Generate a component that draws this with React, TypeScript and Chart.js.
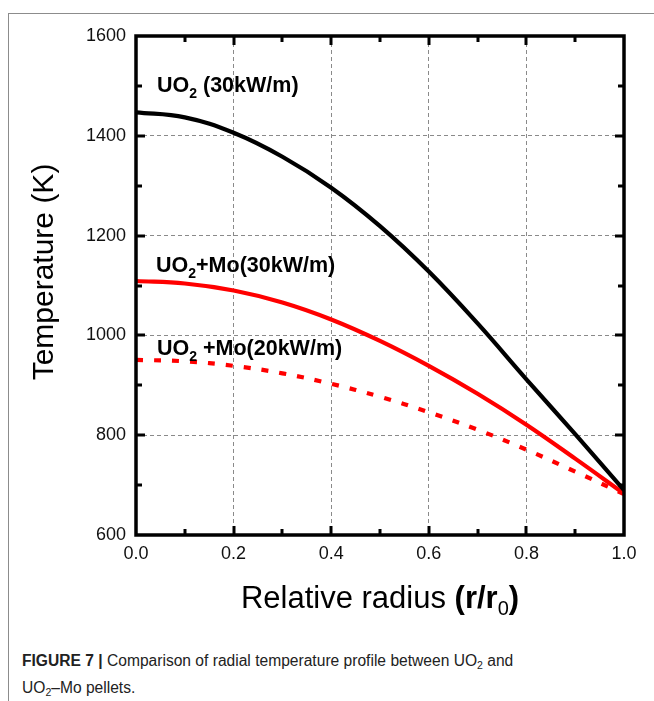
import React, { useEffect, useRef } from "react";
import { Chart, registerables } from "chart.js";

Chart.register(...registerables);

const radius = [0, 0.1, 0.2, 0.3, 0.4, 0.5, 0.6, 0.7, 0.8, 0.9, 1.0];
const uo2_30 = [1447, 1437, 1406, 1358, 1296, 1219, 1128, 1024, 912, 802, 690];
const uo2Mo_30 = [1109, 1104, 1090, 1066, 1032, 989, 939, 883, 821, 753, 683];
const uo2Mo_20 = [951, 948, 939, 924, 903, 877, 846, 811, 771, 727, 682];

const xTicks = [0, 0.2, 0.4, 0.6, 0.8, 1.0];
const yTicks = [600, 800, 1000, 1200, 1400, 1600];
const xMinorTicks = [0.1, 0.2, 0.3, 0.4, 0.5, 0.6, 0.7, 0.8, 0.9];
const yMinorTicks = [700, 800, 900, 1000, 1100, 1200, 1300, 1400, 1500];

type Seg = { t: string; bold?: boolean; sub?: boolean };
const annotations: { x: number; y: number; segs: Seg[] }[] = [
  { x: 0.043, y: 1488, segs: [{ t: "UO", bold: true }, { t: "2", bold: true, sub: true }, { t: " (30kW/m)", bold: true }] },
  { x: 0.041, y: 1128, segs: [{ t: "UO", bold: true }, { t: "2", bold: true, sub: true }, { t: "+Mo(30kW/m)", bold: true }] },
  { x: 0.043, y: 961, segs: [{ t: "UO", bold: true }, { t: "2", bold: true, sub: true }, { t: " +Mo(20kW/m)", bold: true }] },
];

const FONT = '"Liberation Sans", Arial, sans-serif';

function drawSegs(ctx: CanvasRenderingContext2D, segs: Seg[], x: number, y: number, size: number, subSize: number, subDy: number, align: "left" | "center") {
  const fontOf = (s: Seg) => `${s.bold ? "bold " : ""}${s.sub ? subSize : size}px ${FONT}`;
  let total = 0;
  for (const s of segs) {
    ctx.font = fontOf(s);
    total += ctx.measureText(s.t).width;
  }
  let cx = align === "center" ? x - total / 2 : x;
  ctx.textAlign = "left";
  ctx.textBaseline = "alphabetic";
  for (const s of segs) {
    ctx.font = fontOf(s);
    ctx.fillText(s.t, cx, s.sub ? y + subDy : y);
    cx += ctx.measureText(s.t).width;
  }
}

const near = (a: number, b: number) => Math.abs(a - b) < 1e-6;

const framePlugin = {
  id: "frameAndText",
  afterDatasetsDraw(chart: any) {
    const ctx = chart.ctx as CanvasRenderingContext2D;
    const xs = chart.scales.x;
    const ys = chart.scales.y;
    ctx.save();
    ctx.fillStyle = "#000";
    for (const a of annotations) {
      drawSegs(ctx, a.segs, xs.getPixelForValue(a.x), ys.getPixelForValue(a.y), 21.5, 14, 6, "left");
    }
    ctx.restore();
  },
  afterDraw(chart: any) {
    const ctx = chart.ctx as CanvasRenderingContext2D;
    const { left, right, top, bottom } = chart.chartArea;
    const xs = chart.scales.x;
    const ys = chart.scales.y;
    ctx.save();
    ctx.setLineDash([]);
    ctx.strokeStyle = "#000000";
    ctx.fillStyle = "#000000";
    for (const v of xMinorTicks) {
      const major = xTicks.some((t) => near(t, v));
      const len = major ? 9 : 6;
      const px = Math.round(xs.getPixelForValue(v));
      ctx.fillRect(px - 1.5, bottom - len, 3, len);
      ctx.fillRect(px - 1.5, top, 3, len);
    }
    for (const v of yMinorTicks) {
      const major = yTicks.some((t) => near(t, v));
      const len = major ? 9 : 6;
      const py = Math.round(ys.getPixelForValue(v));
      ctx.fillRect(left, py - 1.5, len, 3);
      ctx.fillRect(right - len, py - 1.5, len, 3);
    }
    ctx.lineWidth = 3.5;
    ctx.strokeRect(left, top, right - left, bottom - top);

    drawSegs(
      ctx,
      [{ t: "Relative radius " }, { t: "(r/r", bold: true }, { t: "0", sub: true }, { t: ")", bold: true }],
      (left + right) / 2,
      608,
      31,
      20,
      7,
      "center"
    );
    ctx.translate(53, 272);
    ctx.rotate(-Math.PI / 2);
    ctx.font = `30px ${FONT}`;
    ctx.textAlign = "center";
    ctx.textBaseline = "alphabetic";
    ctx.fillText("Temperature (K)", 0, 0);
    ctx.restore();
  },
};

export default function App() {
  const ref = useRef<HTMLCanvasElement>(null);
  useEffect(() => {
    if (!ref.current) return;
    const common = { borderWidth: 4.2, pointRadius: 0, tension: 0.4, fill: false };
    const chart = new Chart(ref.current, {
      type: "line",
      data: {
        datasets: [
          { ...common, label: "UO2 (30kW/m)", data: radius.map((r, i) => ({ x: r, y: uo2_30[i] })), borderColor: "#000000" },
          { ...common, label: "UO2+Mo(30kW/m)", data: radius.map((r, i) => ({ x: r, y: uo2Mo_30[i] })), borderColor: "#ff0000" },
          {
            ...common,
            label: "UO2+Mo(20kW/m)",
            data: radius.map((r, i) => ({ x: r, y: uo2Mo_20[i] })),
            borderColor: "#ff0000",
            borderDash: [7, 11],
          },
        ],
      },
      options: {
        animation: false,
        responsive: false,
        devicePixelRatio: 1,
        layout: { padding: { left: 0, right: 30, top: 36, bottom: 0 } },
        plugins: { legend: { display: false }, tooltip: { enabled: false } },
        scales: {
          x: {
            type: "linear",
            min: 0,
            max: 1,
            afterBuildTicks: (s: any) => {
              s.ticks = xTicks.map((v) => ({ value: v }));
            },
            afterFit: (s: any) => {
              s.height = 95;
            },
            ticks: {
              callback: (v: any) => Number(v).toFixed(1),
              font: { size: 18, family: FONT },
              color: "#111",
              padding: 8,
              maxRotation: 0,
              autoSkip: false,
            },
            grid: {
              drawTicks: false,
              lineWidth: 1,
              color: (c: any) => (c.tick && (near(c.tick.value, 0) || near(c.tick.value, 1)) ? "rgba(0,0,0,0)" : "#8a8a8a"),
            },
            border: { display: false, dash: [4, 3] },
          },
          y: {
            type: "linear",
            min: 600,
            max: 1600,
            afterBuildTicks: (s: any) => {
              s.ticks = yTicks.map((v) => ({ value: v }));
            },
            afterFit: (s: any) => {
              s.width = 136;
            },
            ticks: {
              callback: (v: any) => String(v),
              font: { size: 18, family: FONT },
              color: "#111",
              padding: 10,
              autoSkip: false,
            },
            grid: {
              drawTicks: false,
              lineWidth: 1,
              color: (c: any) => (c.tick && (near(c.tick.value, 600) || near(c.tick.value, 1600)) ? "rgba(0,0,0,0)" : "#8a8a8a"),
            },
            border: { display: false, dash: [4, 3] },
          },
        },
      },
      plugins: [framePlugin],
    } as any);
    return () => chart.destroy();
  }, []);

  const subStyle: React.CSSProperties = { fontSize: "10.5px", verticalAlign: "baseline", position: "relative", top: "3px" };

  return (
    <div style={{ position: "fixed", left: 0, top: 0, width: 654, height: 701, background: "#fff", overflow: "hidden" }}>
      <div
        style={{
          position: "absolute",
          left: 8,
          top: 13,
          width: 646,
          height: 688,
          borderTop: "1px solid #8c8c8c",
          borderLeft: "1px solid #8c8c8c",
          boxSizing: "border-box",
        }}
      />
      <canvas ref={ref} width={654} height={630} style={{ position: "absolute", left: 0, top: 0, width: 654, height: 630 }} />
      <div
        style={{
          position: "absolute",
          left: 22,
          top: 648,
          fontFamily: FONT,
          fontSize: "15.6px",
          lineHeight: "25px",
          color: "#222",
          whiteSpace: "nowrap",
        }}
      >
        <b>FIGURE 7 |</b> Comparison of radial temperature profile between UO<span style={subStyle}>2</span> and
        <br />
        UO<span style={subStyle}>2</span>–Mo pellets.
      </div>
    </div>
  );
}
